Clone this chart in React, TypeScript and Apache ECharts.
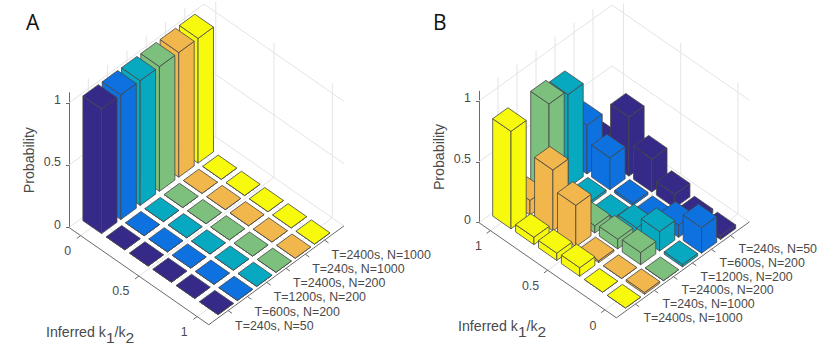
import React, { useEffect, useRef } from "react";
import * as echarts from "echarts";

const seriesLabels = ["T=240s, N=50", "T=600s, N=200", "T=1200s, N=200", "T=2400s, N=200", "T=240s, N=1000", "T=2400s, N=1000"];
const seriesColors = ["#352a87", "#0d72e0", "#07a9c0", "#7dbf7c", "#f2b74c", "#f8fa0d"];
const ratioBins = [0, 0.2, 0.4, 0.6, 0.8, 1];
const ratioTicks = [0, 0.5, 1];
const probTicks = [0, 0.5, 1];

// one row per series (seriesLabels order), one value per ratio bin (ratioBins order)
const probA = [
  [1, 0, 0, 0, 0, 0],
  [1, 0, 0, 0, 0, 0],
  [1, 0, 0, 0, 0, 0],
  [1, 0, 0, 0, 0, 0],
  [1, 0, 0, 0, 0, 0],
  [1, 0, 0, 0, 0, 0],
];
const probB = [
  [0.03, 0.03, 0.11, 0.27, 0.485, 0.12],
  [0.21, 0.1, 0.015, 0.02, 0.263, 0.4],
  [0.02, 0.16, 0.06, 0.01, 0.02, 0.765],
  [0, 0.1, 0.08, 0.06, 0, 0.8],
  [0.015, 0, 0.015, 0.34, 0.5, 0.12],
  [0, 0, 0.07, 0.06, 0.06, 0.8],
];

const FONT = '"Liberation Sans", Arial, sans-serif';
const TXT = "#4a4a4a";
const GRIDC = "#e4e4e4";
const AXISC = "#6a6a6a";
const EDGE = "#454545";

const kMin = -0.5, sMin = -1, kSpan = 6, sSpan = 7, zTop = 1.08, half = 0.4;

const panels = [
  {
    left: 69, base: 227.5, dk: [23.3, 16.2], ds: [19.3, -14.1], zPx: 124.7,
    values: probA, reversed: false,
    sOff: [7, 15], kOff: [-9.5, 15],
  },
  {
    left: 479, base: 222.7, dk: [22.9, 15.85], ds: [19, -13.7], zPx: 121.7,
    values: probB, reversed: true,
    sOff: [8, 13.7], kOff: [-8.5, 15.7],
  },
];

function makeProj(p: any, api: any) {
  return (k: number, s: number, z: number) => {
    const kk = k - kMin, ss = s - sMin;
    return api.coord([kk * p.dk[0] + ss * p.ds[0], z - (kk * p.dk[1] + ss * p.ds[1]) / p.zPx]);
  };
}

function ln(a: number[], b: number[], color: string, w = 1) {
  return {
    type: "line",
    shape: { x1: a[0], y1: a[1], x2: b[0], y2: b[1] },
    style: { stroke: color, lineWidth: w, fill: "none" },
  };
}

function kPos(p: any, ratio: number) {
  return (p.reversed ? 1 - ratio : ratio) * 5;
}
function sPos(p: any, idx: number) {
  return p.reversed ? 5 - idx : idx;
}

function wallRender(p: any) {
  return (_: any, api: any) => {
    const P = makeProj(p, api);
    const kMax = kMin + kSpan, sMax = sMin + sSpan;
    const ch: any[] = [];
    for (const z of [0, 0.5, 1]) {
      ch.push(ln(P(kMin, sMin, z), P(kMin, sMax, z), GRIDC));
      ch.push(ln(P(kMin, sMax, z), P(kMax, sMax, z), GRIDC));
    }
    seriesLabels.forEach((_l, i) => {
      const s = sPos(p, i);
      ch.push(ln(P(kMin, s, 0), P(kMin, s, zTop), GRIDC));
      ch.push(ln(P(kMin, s, 0), P(kMax, s, 0), GRIDC));
    });
    ratioTicks.forEach((r) => {
      const k = kPos(p, r);
      ch.push(ln(P(k, sMax, 0), P(k, sMax, zTop), GRIDC));
      ch.push(ln(P(k, sMin, 0), P(k, sMax, 0), GRIDC));
    });
    ch.push(ln(P(kMin, sMin, 0), P(kMax, sMin, 0), AXISC));
    ch.push(ln(P(kMax, sMin, 0), P(kMax, sMax, 0), AXISC));
    seriesLabels.forEach((_l, i) => {
      const s = sPos(p, i);
      ch.push(ln(P(kMax, s, 0), P(kMax + 0.17, s, 0), AXISC));
    });
    ratioTicks.forEach((r) => {
      const k = kPos(p, r);
      ch.push(ln(P(k, sMin, 0), P(k, sMin - 0.2, 0), AXISC));
    });
    return { type: "group", children: ch };
  };
}

function barRender(p: any) {
  return (_: any, api: any) => {
    const P = makeProj(p, api);
    const k = api.value(0), s = api.value(1), h = api.value(2), c = seriesColors[api.value(3)];
    const st = { fill: c, stroke: EDGE, lineWidth: 0.8, lineJoin: "round" };
    const l = [k - half, s - half], f = [k + half, s - half], r = [k + half, s + half], b = [k - half, s + half];
    const poly = (pts: number[][]) => ({ type: "polygon", shape: { points: pts }, style: st });
    return {
      type: "group",
      children: [
        poly([P(l[0], l[1], 0), P(f[0], f[1], 0), P(f[0], f[1], h), P(l[0], l[1], h)]),
        poly([P(f[0], f[1], 0), P(r[0], r[1], 0), P(r[0], r[1], h), P(f[0], f[1], h)]),
        poly([P(l[0], l[1], h), P(f[0], f[1], h), P(r[0], r[1], h), P(b[0], b[1], h)]),
      ],
    };
  };
}

function labelRender(p: any) {
  return (_: any, api: any) => {
    const P = makeProj(p, api);
    const ch: any[] = [];
    seriesLabels.forEach((t, i) => {
      const a = P(kMin + kSpan, sPos(p, i), 0);
      ch.push({
        type: "text",
        style: { text: t, x: a[0] + p.sOff[0], y: a[1] + p.sOff[1], align: "left", verticalAlign: "middle", fill: TXT, fontSize: 12.4, fontFamily: FONT },
      });
    });
    ratioTicks.forEach((r) => {
      const a = P(kPos(p, r), sMin, 0);
      ch.push({
        type: "text",
        style: { text: String(r), x: a[0] + p.kOff[0], y: a[1] + p.kOff[1], align: "right", verticalAlign: "middle", fill: TXT, fontSize: 12.4, fontFamily: FONT },
      });
    });
    return { type: "group", children: ch };
  };
}

function barData(p: any) {
  const out: number[][] = [];
  p.values.forEach((row: number[], i: number) => {
    row.forEach((v, j) => out.push([kPos(p, ratioBins[j]), sPos(p, i), v, i]));
  });
  return out.sort((a, b) => a[0] - a[1] - (b[0] - b[1]));
}

function inferredText(x: number, y: number) {
  return {
    type: "text",
    left: x,
    top: y,
    style: {
      text: "{a|Inferred k}{s|1}{a|/k}{s|2}",
      rich: {
        a: { fontSize: 14.2, fontFamily: FONT, fill: TXT, lineHeight: 20, verticalAlign: "top", padding: [0, 0, 3, 0] },
        s: { fontSize: 15.5, fontFamily: FONT, fill: TXT, lineHeight: 20, verticalAlign: "bottom", padding: [3, 0, 0, 0] },
      },
    },
  };
}

export default function App() {
  const ref = useRef<HTMLDivElement>(null);
  useEffect(() => {
    const chart = echarts.init(ref.current!, undefined, { renderer: "svg" });
    const grid: any[] = [], xAxis: any[] = [], yAxis: any[] = [], series: any[] = [];
    panels.forEach((p, i) => {
      const w = kSpan * p.dk[0] + sSpan * p.ds[0];
      const h = zTop * p.zPx;
      grid.push({ left: p.left, top: p.base - h, width: w, height: h, show: false });
      xAxis.push({ type: "value", gridIndex: i, min: 0, max: w, show: false });
      yAxis.push({
        type: "value",
        gridIndex: i,
        min: 0,
        max: zTop,
        name: "Probability",
        nameLocation: "middle",
        nameRotate: 90,
        nameGap: 33,
        nameTextStyle: { fontSize: 14.2, color: TXT, fontFamily: FONT },
        axisLine: { show: true, lineStyle: { color: AXISC, width: 1 } },
        axisTick: { show: true, length: 3, customValues: probTicks, lineStyle: { color: AXISC } },
        axisLabel: { show: true, customValues: probTicks, margin: 8, fontSize: 12.4, color: TXT, fontFamily: FONT, verticalAlign: "bottom", lineHeight: 6 },
        splitLine: { show: false },
      });
      const common = { type: "custom", xAxisIndex: i, yAxisIndex: i, silent: true, clip: false, animation: false };
      series.push({ ...common, renderItem: wallRender(p), data: [[0, 0]], encode: { x: 0, y: 1 } });
      series.push({ ...common, renderItem: barRender(p), data: barData(p), encode: { x: 0, y: 2 } });
      series.push({ ...common, renderItem: labelRender(p), data: [[0, 0]], encode: { x: 0, y: 1 } });
    });
    chart.setOption({
      animation: false,
      backgroundColor: "#ffffff",
      grid,
      xAxis,
      yAxis,
      series,
      graphic: [
        { type: "text", left: 26, top: 11, style: { text: "A", fontSize: 21, fontFamily: '"Open Sans", sans-serif', fill: "#111" } },
        { type: "text", left: 433, top: 11, style: { text: "B", fontSize: 21, fontFamily: '"Open Sans", sans-serif', fill: "#111" } },
        inferredText(46, 325),
        inferredText(458, 319),
      ],
    });
    return () => chart.dispose();
  }, []);
  return <div ref={ref} style={{ position: "absolute", left: 0, top: 0, width: 830, height: 362 }} />;
}
